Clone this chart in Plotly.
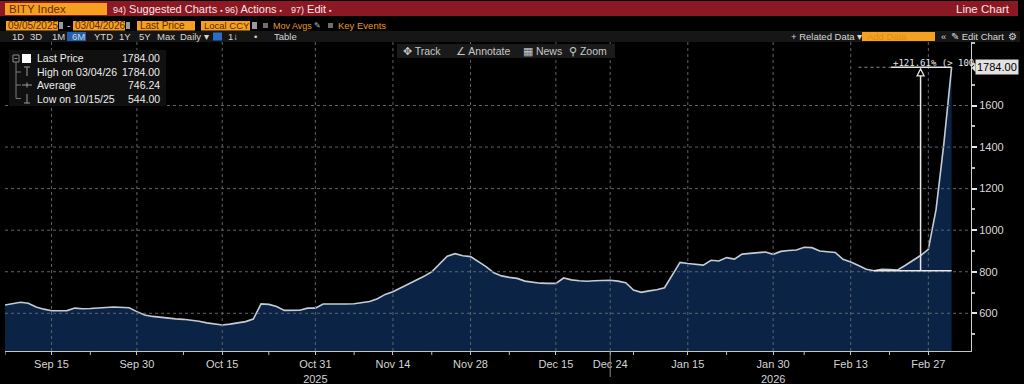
import pandas as pd
import plotly.graph_objects as go

# ---------------- data ----------------
start_date = "2025-09-05"
end_date = "2026-03-04"
missing_days = ["2025-12-25", "2025-12-26", "2025-12-31", "2026-01-01", "2026-01-02", "2026-01-05"]
dates = [d.strftime("%Y-%m-%d") for d in pd.bdate_range(start_date, end_date)
         if d.strftime("%Y-%m-%d") not in missing_days]

prices = [
    640, 645, 653, 648, 630, 620, 612, 612, 613, 625,
    622, 623, 627, 628, 630, 628, 627, 608, 592, 585,
    580, 576, 573, 571, 567, 562, 554, 550, 544, 548,
    553, 560, 572, 645, 643, 633, 614, 614, 615, 625,
    625, 645, 644, 643, 645, 646, 650, 657, 670, 691,
    704, 722, 740, 758, 778, 800, 838, 875, 887, 877,
    873, 850, 825, 795, 780, 773, 768, 755, 750, 745,
    744, 744, 770, 761, 757, 754, 757, 759, 759, 755,
    747, 712, 701, 708, 713, 723, 785, 845, 840, 835,
    832, 855, 852, 868, 861, 885, 889, 890, 895, 884,
    898, 902, 905, 918, 916, 900, 895, 893, 860, 847,
    830, 812, 805, 812, 810, 808, 830, 855, 878, 908,
    1100, 1415, 1784,
]

tick_dates = ["2025-09-15", "2025-09-30", "2025-10-15", "2025-10-31", "2025-11-14", "2025-11-28",
              "2025-12-15", "2025-12-24", "2026-01-15", "2026-01-30", "2026-02-13", "2026-02-27"]
tick_labels = ["Sep 15", "Sep 30", "Oct 15", "Oct 31<br>2025", "Nov 14", "Nov 28",
               "Dec 15", "Dec 24", "Jan 15", "Jan 30<br>2026", "Feb 13", "Feb 27"]
minor_tick_dates = ["2025-09-05", "2025-09-22", "2025-10-08", "2025-10-23", "2025-11-07", "2025-11-21",
                    "2025-12-05", "2026-01-06", "2026-01-22", "2026-02-05", "2026-02-20"]
y_ticks = [600, 800, 1000, 1200, 1400, 1600]

legend_rows = ["Last Price", "High on 03/04/26", "Average", "Low on 10/15/25"]
legend_vals = ["1784.00", "1784.00", "746.24", "544.00"]

base_date = "2026-02-18"   # start of the % change measurement
arrow_date = "2026-02-26"

# ---------------- figure ----------------
W, H = 1024, 384
L, R, T, B = 5, 53, 42, 33
PW, PH = W - L - R, H - T - B


def px(x):
    return (x - L) / PW


def py(y):
    return (H - B - y) / PH


FONT = "Liberation Sans"
HFONT = "Liberation Sans"

fig = go.Figure()
fig.add_trace(go.Scatter(
    x=dates, y=prices, mode="lines",
    line=dict(color="#c6ccd4", width=1.6),
    fill="tozeroy", fillcolor="#0b2345",
    hoverinfo="skip",
))

shapes = []
annotations = []

# gridlines above the area fill
for d in tick_dates:
    shapes.append(dict(type="line", xref="x", yref="paper", x0=d, x1=d, y0=0, y1=1,
                       line=dict(color="#5e646c", width=1, dash="dot"), layer="above"))
for v in y_ticks:
    shapes.append(dict(type="line", xref="paper", yref="y", x0=0, x1=1, y0=v, y1=v,
                       line=dict(color="#5e646c", width=1, dash="dot"), layer="above"))
# minor x ticks
for d in minor_tick_dates:
    shapes.append(dict(type="line", xref="x", yref="paper", x0=d, x1=d, y0=0, y1=-4 / PH,
                       line=dict(color="#bfbfbf", width=1), layer="above"))
# year break marker
shapes.append(dict(type="line", xref="x", yref="paper", x0="2025-12-24", x1="2025-12-24",
                   y0=0, y1=-26 / PH, line=dict(color="#8a8a8a", width=1), layer="above"))

# % change annotation
bi = dates.index(base_date)
ai = dates.index(arrow_date)
li = len(dates) - 1
base_val = prices[bi]
top_val = prices[li]
pct = (top_val / base_val - 1) * 100
shapes.append(dict(type="line", xref="x", yref="y", x0=bi, x1=li, y0=base_val, y1=base_val,
                   line=dict(color="#e8e8e8", width=1.5), layer="above"))
shapes.append(dict(type="line", xref="x", yref="y", x0=ai, x1=ai, y0=base_val, y1=top_val - 41,
                   line=dict(color="#e8e8e8", width=1.5), layer="above"))
shapes.append(dict(type="path", xref="x", yref="y",
                   path=f"M {ai - 0.45} {top_val - 41} L {ai + 0.45} {top_val - 41} L {ai} {top_val - 8} Z",
                   line=dict(color="#e8e8e8", width=1.3), fillcolor="#000000", layer="above"))
shapes.append(dict(type="line", xref="x", yref="y", x0=li - 7.8, x1=li, y0=top_val, y1=top_val,
                   line=dict(color="#e8e8e8", width=1.3), layer="above"))
shapes.append(dict(type="line", xref="x", yref="y", x0=li - 12, x1=li - 7.8, y0=top_val, y1=top_val,
                   line=dict(color="#8a8a8a", width=1, dash="dot"), layer="above"))
annotations.append(dict(xref="paper", yref="paper", x=px(891), y=py(62.5), xanchor="left", yanchor="middle",
                        text=f"+{pct:.2f}% (> 100", showarrow=False,
                        font=dict(family="DejaVu Sans Mono", size=9, color="#e8e8e8")))
# last price tag
annotations.append(dict(xref="paper", yref="y", x=px(975), y=top_val, xanchor="left", yanchor="middle",
                        text=f"{top_val:.2f}", showarrow=False, bgcolor="#e2e2e2", borderpad=1,
                        font=dict(family=FONT, size=11, color="#000000")))
shapes.append(dict(type="path", xref="paper", yref="paper",
                   path=f"M {px(971.5)} {py(68)} L {px(975.5)} {py(64)} L {px(975.5)} {py(72)} Z",
                   fillcolor="#e2e2e2", line=dict(width=0), layer="above"))

# ---------------- legend box ----------------
shapes.append(dict(type="rect", xref="paper", yref="paper", x0=px(9), x1=px(166), y0=py(106), y1=py(50),
                   fillcolor="#101010", line=dict(width=0), layer="above"))
row_y = [58.5, 72, 85, 98.5]
for i, (lab, val) in enumerate(zip(legend_rows, legend_vals)):
    annotations.append(dict(xref="paper", yref="paper", x=px(35), y=py(row_y[i]), xanchor="left",
                            yanchor="middle", text=lab, showarrow=False,
                            font=dict(family=FONT, size=10.5, color="#ececec")))
    annotations.append(dict(xref="paper", yref="paper", x=px(162), y=py(row_y[i]), xanchor="right",
                            yanchor="middle", text=val, showarrow=False,
                            font=dict(family=FONT, size=10.5, color="#ececec")))
# legend tree & icons
shapes.append(dict(type="rect", xref="paper", yref="paper", x0=px(13), x1=px(19), y0=py(62), y1=py(55),
                   line=dict(color="#8a8a8a", width=1), fillcolor="#101010", layer="above"))
shapes.append(dict(type="line", xref="paper", yref="paper", x0=px(14.5), x1=px(17.5), y0=py(58.5), y1=py(58.5),
                   line=dict(color="#8a8a8a", width=1), layer="above"))
shapes.append(dict(type="rect", xref="paper", yref="paper", x0=px(22), x1=px(31), y0=py(63), y1=py(54),
                   line=dict(width=0), fillcolor="#ffffff", layer="above"))
shapes.append(dict(type="line", xref="paper", yref="paper", x0=px(16), x1=px(16), y0=py(62), y1=py(98.5),
                   line=dict(color="#7a7a7a", width=1), layer="above"))
for yy in row_y[1:]:
    shapes.append(dict(type="line", xref="paper", yref="paper", x0=px(16), x1=px(21), y0=py(yy), y1=py(yy),
                       line=dict(color="#7a7a7a", width=1), layer="above"))
# high icon
shapes.append(dict(type="line", xref="paper", yref="paper", x0=px(24), x1=px(30), y0=py(67), y1=py(67),
                   line=dict(color="#9a9a9a", width=1), layer="above"))
shapes.append(dict(type="line", xref="paper", yref="paper", x0=px(27), x1=px(27), y0=py(67), y1=py(76),
                   line=dict(color="#9a9a9a", width=1), layer="above"))
# average icon
shapes.append(dict(type="line", xref="paper", yref="paper", x0=px(22), x1=px(32), y0=py(85), y1=py(85),
                   line=dict(color="#9a9a9a", width=1), layer="above"))
shapes.append(dict(type="line", xref="paper", yref="paper", x0=px(27), x1=px(27), y0=py(82.5), y1=py(87.5),
                   line=dict(color="#9a9a9a", width=1), layer="above"))
# low icon
shapes.append(dict(type="line", xref="paper", yref="paper", x0=px(24), x1=px(30), y0=py(103), y1=py(103),
                   line=dict(color="#9a9a9a", width=1), layer="above"))
shapes.append(dict(type="line", xref="paper", yref="paper", x0=px(27), x1=px(27), y0=py(94), y1=py(103),
                   line=dict(color="#9a9a9a", width=1), layer="above"))


# ---------------- Bloomberg header ----------------
def rect(x0, y0, x1, y1, color, line=None):
    shapes.append(dict(type="rect", xref="paper", yref="paper", x0=px(x0), x1=px(x1), y0=py(y1), y1=py(y0),
                       fillcolor=color, line=dict(width=0) if line is None else line, layer="above"))


def text(x, y, s, size=11, color="#e8e8e8", anchor="left", family=HFONT):
    annotations.append(dict(xref="paper", yref="paper", x=px(x), y=py(y), xanchor=anchor, yanchor="middle",
                            text=s, showarrow=False, font=dict(family=family, size=size, color=color)))


rect(0, 0, 1024, 42, "#000000")
rect(0, 1, 1018, 16, "#8b1822")
rect(5, 3, 107, 15, "#f5a11f")
text(7, 9, "BITY Index", 11.5, "#6a2a00")
text(111, 9, "<span style='font-size:9px'>94)</span> Suggested Charts <span style='font-size:7px'>▪</span>", 11, "#f6e6e6")
text(223, 9, "<span style='font-size:9px'>96)</span> Actions <span style='font-size:7px'>▪</span>", 11, "#f6e6e6")
text(289, 9, "<span style='font-size:9px'>97)</span> Edit <span style='font-size:7px'>▪</span>", 11, "#f6e6e6")
text(1012, 9, "Line Chart", 11.5, "#f6e6e6", "right")

# row 2
rect(6, 21, 58, 30.5, "#f5a11f")
rect(59, 22, 63, 29, "#9a9a9a")
text(65, 25.5, "-", 10, "#dddddd")
rect(73, 21, 125, 30.5, "#f5a11f")
rect(126, 22, 130, 29, "#9a9a9a")
rect(137, 21, 195, 30.5, "#f5a11f")
rect(201, 21, 250, 30.5, "#f5a11f")
rect(252, 22, 257, 29, "#9a9a9a")
rect(263, 23, 268, 28, "#6e6e6e")
rect(328, 23, 333, 28, "#6e6e6e")
text(6, 25.8, "09/05/2025", 10, "#5e2600")
text(73, 25.8, "03/04/2026", 10, "#5e2600")
text(138, 25.8, "Last Price", 10, "#5e2600")
text(202, 25.8, "Local CCY", 9.5, "#5e2600")
text(271, 25.8, "Mov Avgs", 9, "#e8962a")
text(312, 25.8, "✎", 8, "#bbbbbb")
text(336, 25.8, "Key Events", 9.5, "#e8962a")

# row 3
rect(0, 31, 1020, 42, "#161616")
rect(67, 32, 86, 41, "#1d5fb0")
for lab, xx in [("1D", 10), ("3D", 28), ("1M", 50), ("6M", 70), ("YTD", 92), ("1Y", 117), ("5Y", 137),
                ("Max", 155), ("Daily ▾", 178), ("1↓", 226), ("•", 252), ("Table", 272)]:
    text(xx, 36.5, lab, 9.5, "#d6d6d6")
rect(213, 32.5, 222, 40.5, "#2b6cc4")
text(789, 36.5, "+ Related Data ▾", 9.5, "#d6d6d6")
rect(862, 32, 935, 41, "#f5a11f")
text(865, 36.5, "Add Data", 9.5, "#e58a12")
text(939, 36.5, "«", 9.5, "#d6d6d6")
text(949, 36.5, "✎ Edit Chart", 9.5, "#d6d6d6")
text(1006, 36.5, "⚙", 9.5, "#d6d6d6")

# toolbar
rect(397, 44, 615, 58, "#1a1a1a")
text(401, 51, "✥ Track", 10.5, "#c8c8c8")
text(454, 51, "∠ Annotate", 10.5, "#c8c8c8")
text(521, 51, "▦ News", 10.5, "#c8c8c8")
text(567, 51, "⚲ Zoom", 10.5, "#c8c8c8")

fig.update_layout(
    width=W, height=H,
    margin=dict(l=L, r=R, t=T, b=B, autoexpand=False),
    paper_bgcolor="#000000", plot_bgcolor="#000000",
    showlegend=False,
    font=dict(family=FONT, size=11, color="#d8d8d8"),
    shapes=shapes, annotations=annotations,
)
fig.update_xaxes(
    type="category", range=[0, 124.5], tickmode="array", tickvals=tick_dates, ticktext=tick_labels,
    automargin=False,
    showgrid=False, zeroline=False, showline=True, linecolor="#c4c4c4", linewidth=1,
    ticks="outside", ticklen=3, tickcolor="#c4c4c4",
    tickfont=dict(family=FONT, size=11, color="#d4d4d4"),
)
fig.update_yaxes(
    side="right", range=[418.6, 1905.6], tickmode="array", tickvals=y_ticks,
    automargin=False,
    showgrid=False, zeroline=False, showline=True, linecolor="#cfcfcf", linewidth=1,
    ticks="outside", ticklen=5, tickwidth=2, tickcolor="#e6e6e6",
    tickfont=dict(family=FONT, size=11, color="#dadada"),
    minor=dict(tickmode="linear", tick0=0, dtick=100, ticks="outside", ticklen=3, tickcolor="#bdbdbd", showgrid=False),
)

fig.write_html(
    "out.html",
    config={"displayModeBar": False},
    post_script="document.body.style.margin='0';document.body.style.padding='0';"
                "document.documentElement.style.background='#000';document.body.style.background='#000';",
)
